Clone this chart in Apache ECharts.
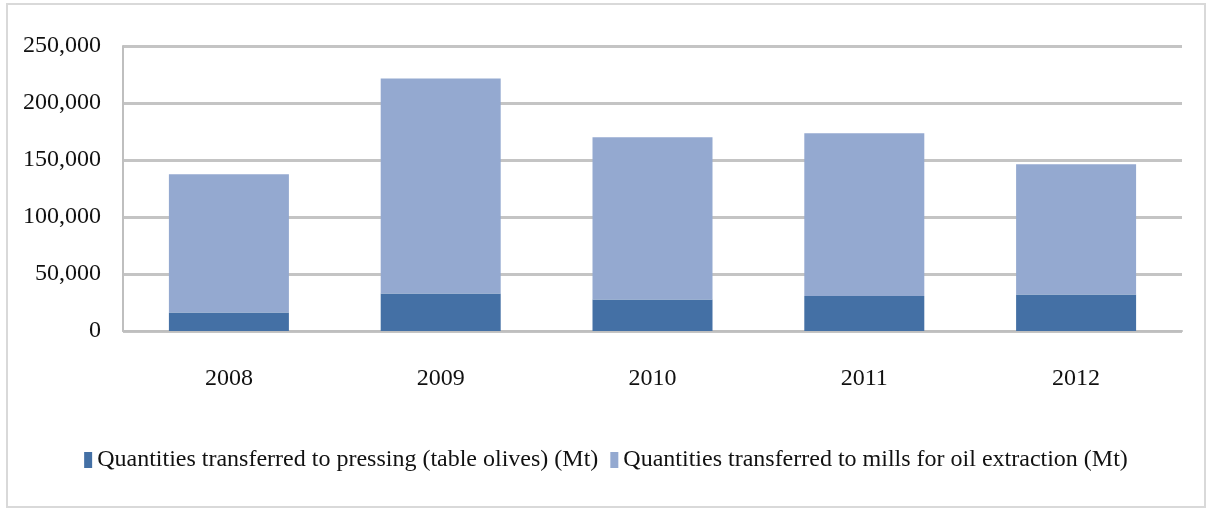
<!DOCTYPE html>
<html>
<head>
<meta charset="UTF-8">
<title>Olive quantities</title>
<style type="text/css">
html, body {
	margin: 0;
	padding: 0;
	background: #fff;
}
#main {
	position: absolute;
	left: 6px;
	top: 3px;
	width: 1200px;
	height: 505px;
	border: 2px solid #d9d9d9;
	box-sizing: border-box;
}
</style>
</head>
<body>
	<div id="main"></div>
	<script type="text/javascript" src="https://cdn.jsdelivr.net/npm/echarts@6/dist/echarts.min.js"></script>
	<script type="text/javascript">
	var years = [ '2008', '2009', '2010', '2011', '2012' ];
	// pressing (table olives), dark blue, bottom of stack
	var pressing = [ 16200, 32900, 27700, 30600, 32000 ];
	// mills for oil extraction, light blue, on top
	var mills = [ 121200, 188500, 142300, 142900, 114300 ];
	var yTicks = [ 0, 50000, 100000, 150000, 200000, 250000 ];

	var chart = echarts.init(document.getElementById('main'));
	var font = '"Liberation Serif", "Times New Roman", serif';

	var option = {
		animation : false,
		grid : {
			left : 115,
			right : 22,
			top : 41,
			bottom : 175
		},
		legend : {
			bottom : 29,
			left : 'center',
			itemWidth : 8,
			itemHeight : 16,
			itemGap : 12,
			icon : 'rect',
			textStyle : {
				fontFamily : font,
				fontSize : 24,
				color : '#111'
			},
			data : [ 'Quantities transferred to pressing (table olives) (Mt)',
					'Quantities transferred to mills for oil extraction (Mt)' ]
		},
		xAxis : {
			type : 'category',
			data : years,
			axisTick : { show : false },
			axisLine : { lineStyle : { color : '#bfbfbf', width : 2 } },
			axisLabel : {
				margin : 36,
				fontFamily : font,
				fontSize : 24,
				color : '#111'
			}
		},
		yAxis : {
			type : 'value',
			min : yTicks[0],
			max : yTicks[yTicks.length - 1],
			interval : 50000,
			axisLine : { show : true, lineStyle : { color : '#bfbfbf', width : 2 } },
			axisTick : { show : false },
			splitLine : { lineStyle : { color : '#c4c4c4', width : 3 } },
			axisLabel : {
				margin : 22,
				fontFamily : font,
				fontSize : 24,
				color : '#111',
				formatter : function(v) {
					return v.toString().replace(/\B(?=(\d{3})+(?!\d))/g, ',');
				}
			}
		},
		series : [ {
			name : 'Quantities transferred to pressing (table olives) (Mt)',
			type : 'bar',
			stack : 'q',
			barWidth : 120,
			itemStyle : { color : '#4470a5' },
			data : pressing
		}, {
			name : 'Quantities transferred to mills for oil extraction (Mt)',
			type : 'bar',
			stack : 'q',
			barWidth : 120,
			itemStyle : { color : '#94a9d0' },
			data : mills
		} ]
	};

	chart.setOption(option);
	</script>
</body>
</html>
